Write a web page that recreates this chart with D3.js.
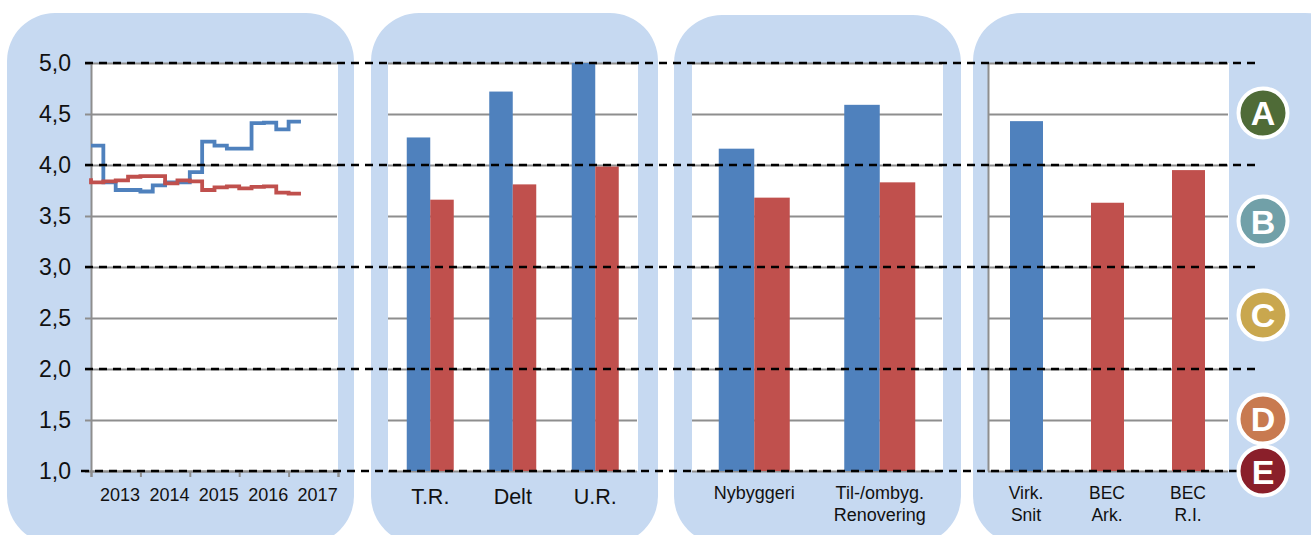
<!DOCTYPE html>
<html><head><meta charset="utf-8">
<script src="https://cdn.jsdelivr.net/npm/d3@7"></script>
<style>html,body{margin:0;padding:0;background:#fff;overflow:hidden}svg{display:block}text{font-family:"Liberation Sans",Arial,sans-serif;fill:#111}</style>
</head><body><svg id="c" width="1311" height="535"></svg>
<script>
const yTicks=[1,1.5,2,2.5,3,3.5,4,4.5,5];
const gradeLevels=[1,2,3,4,5];
const years=["2013","2014","2015","2016","2017"];
const yearEdges=[0,4,8,12,16,20];
const quarters=[0,1,2,3,4,5,6,7,8,9,10,11,12,13,14,15,16,17];
const blueLine=[4.19,3.83,3.755,3.755,3.74,3.80,3.83,3.83,3.93,4.23,4.19,4.16,4.16,4.41,4.415,4.35,4.425,4.425];
const redQuarters=[0,0,1,2,3,4,5,6,7,8,9,10,11,12,13,14,15,16,17];
const redLine=[3.87,3.83,3.84,3.85,3.885,3.89,3.89,3.82,3.85,3.84,3.755,3.78,3.79,3.77,3.785,3.79,3.73,3.72,3.72];
const cat2=["T.R.","Delt","U.R."];
const blue2=[4.27,4.72,5.0];
const red2=[3.66,3.81,3.985];
const cat3=[["Nybyggeri"],["Til-/ombyg.","Renovering"]];
const blue3=[4.16,4.59];
const red3=[3.68,3.83];
const cat4=[["Virk.","Snit"],["BEC","Ark."],["BEC","R.I."]];
const blue4=[4.43,null,null];
const red4=[null,3.63,3.95];
const grades=["A","B","C","D","E"];
const gradeY=[4.51,3.45,2.53,1.51,1.0];
const gradeColors=["#4f6b37","#71a0a8","#c9a74e","#c87a50","#8a1f2a"];

const BLUE="#4f81bd",RED="#c0504d",GRID="#8e8e8e",PANEL="#c6d9f1";
const svg=d3.select("#c");
const y=d3.scaleLinear().domain([1,5]).range([471,63]);
const fmt=d=>d3.format(".1f")(d).replace(".",",");

const panels=[
 {x:7,w:347,top:13,px:91,pw:247},
 {x:371,w:287,top:13,px:388,pw:250},
 {x:674,w:287,top:15,px:692,pw:251},
 {x:973,w:380,top:13,px:988,pw:241}];
panels.forEach(p=>{
 svg.append("rect").attr("x",p.x).attr("y",p.top).attr("width",p.w).attr("height",544-p.top).attr("rx",48).attr("ry",48).attr("fill",PANEL);
 svg.append("rect").attr("x",p.px).attr("y",63).attr("width",p.pw).attr("height",408).attr("fill","#fff");
 const g=svg.append("g").attr("transform",`translate(${p.px},0)`)
  .call(d3.axisRight(y).tickValues(yTicks).tickSize(p.pw-1).tickFormat(""));
 g.select(".domain").remove();
 g.selectAll("line").attr("stroke",GRID).attr("stroke-width",2);
});

// Panel 1 axes
const xTime=d3.scaleLinear().domain([0,20]).range([91,338]);
const leftAxis=svg.append("g").attr("transform","translate(91,0)")
 .call(d3.axisLeft(y).tickValues(yTicks).tickSize(6).tickPadding(14).tickFormat(fmt));
leftAxis.selectAll("line").attr("stroke",GRID).attr("stroke-width",2);
leftAxis.select(".domain").attr("stroke",GRID).attr("stroke-width",2);
leftAxis.selectAll("text").style("font-size","23px").style("font-family","Liberation Sans").attr("fill","#111");
const botAxis=svg.append("g").attr("transform","translate(0,471)")
 .call(d3.axisBottom(xTime).tickValues(yearEdges).tickSize(6).tickFormat(""));
botAxis.select(".domain").attr("stroke",GRID).attr("stroke-width",2);
botAxis.selectAll("line").attr("stroke",GRID).attr("stroke-width",2);
svg.append("g").selectAll("text").data(years).join("text")
 .attr("x",(d,i)=>xTime(yearEdges[i]+2.35)).attr("y",501).attr("text-anchor","middle").style("font-size","18px").text(d=>d);
const lineGen=(v,xs)=>d3.line().x((d,i)=>xTime(xs[i])).y(d=>y(d)).curve(d3.curveStepAfter)(v);
[[blueLine,quarters,BLUE],[redLine,redQuarters,RED]].forEach(([v,xs,c])=>{
 svg.append("path").attr("d",lineGen(v,xs)).attr("fill","none").attr("stroke",c).attr("stroke-width",3.8);
});

// Bars
function bars(cats,blue,red,x0,x1,gw,twoSeries,fs,labelY,lh,lblOff){
 const x=d3.scaleBand().domain(d3.range(cats.length)).range([x0,x1]);
 const inner=d3.scaleBand().domain([0,1]).range([0,gw]);
 const off=i=>x(i)+x.bandwidth()/2;
 const rect=(vals,sx)=>svg.append("g").selectAll("rect")
  .data(vals.map((v,i)=>({v,i})).filter(d=>d.v!=null)).join("rect")
  .attr("x",d=>sx(d)).attr("y",d=>y(d.v))
  .attr("width",twoSeries?inner.bandwidth():gw).attr("height",d=>y(1)-y(d.v));
 if(twoSeries){
  rect(blue,d=>off(d.i)-gw/2+inner(0)).attr("fill",BLUE);
  rect(red,d=>off(d.i)-gw/2+inner(1)).attr("fill",RED);
 }else{
  rect(blue,d=>off(d.i)-gw/2).attr("fill",BLUE);
  rect(red,d=>off(d.i)-gw/2).attr("fill",RED);
 }
 cats.forEach((c,i)=>{
  const lines=Array.isArray(c)?c:[c];
  const t=svg.append("text").attr("text-anchor","middle").style("font-size",fs+"px");
  lines.forEach((l,k)=>t.append("tspan").attr("x",off(i)+lblOff).attr("y",labelY+k*lh).text(l));
 });
}
bars(cat2,blue2,red2,389,636.5,47,true,21.5,504,20,0);
bars(cat3,blue3,red3,691.5,942.5,71,true,18,499,22,0);
bars(cat4,blue4,red4,986,1229,33,false,17.5,499,22,-0.5);

// Panel 4 left axis
const ax4=svg.append("g").attr("transform","translate(988,0)").call(d3.axisLeft(y).tickValues([]).tickSize(0));
ax4.select(".domain").attr("stroke",GRID).attr("stroke-width",2);

// Dashed grade lines
svg.append("g").selectAll("line").data(gradeLevels).join("line")
 .attr("x1",d=>d===1?81:85).attr("x2",d=>d===1?1240:1258)
 .attr("y1",d=>y(d)).attr("y2",d=>y(d))
 .attr("stroke","#000").attr("stroke-width",2.4).attr("stroke-dasharray","8 6");

// Grade badges
const cx=1263;
const b=svg.append("g").selectAll("g").data(grades).join("g")
 .attr("transform",(d,i)=>`translate(${cx},${y(gradeY[i])})`);
b.append("circle").attr("r",24.5).attr("fill",(d,i)=>gradeColors[i]).attr("stroke","#fff").attr("stroke-width",4);
b.append("text").attr("text-anchor","middle").attr("y",12.5).style("font-size","34px").style("font-weight","700").style("fill","#fff").text(d=>d);
</script></body></html>
